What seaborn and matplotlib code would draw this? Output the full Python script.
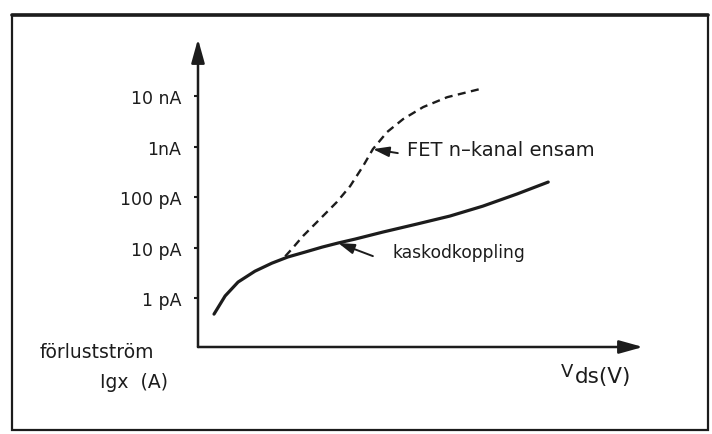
import numpy as np
import pandas as pd
import matplotlib
matplotlib.use("Agg")
import matplotlib.pyplot as plt
import seaborn as sns
from matplotlib.patches import Rectangle
from matplotlib.lines import Line2D

# leakage current vs Vds (arbitrary V units, current in A)
solid_vds = [0.36, 0.61, 0.90, 1.28, 1.66, 2.02, 2.40, 2.79, 3.15, 3.53,
             4.16, 4.92, 5.66, 6.40, 7.17, 7.87]
solid_igx = [4.8e-13, 1.1e-12, 2.07e-12, 3.4e-12, 4.9e-12, 6.5e-12, 8.1e-12,
             1.02e-11, 1.23e-11, 1.47e-11, 2.03e-11, 2.92e-11, 4.2e-11,
             6.6e-11, 1.15e-10, 1.98e-10]
dashed_vds = [1.96, 2.12, 2.36, 2.74, 3.12, 3.42, 3.71, 3.93, 4.25, 4.61,
              5.06, 5.60, 6.34]
dashed_igx = [6.7e-12, 9.6e-12, 1.69e-11, 3.66e-11, 7.96e-11, 1.65e-10,
              4.1e-10, 8.9e-10, 1.94e-9, 3.5e-9, 6.05e-9, 9.5e-9, 1.38e-8]
tick_values = [1e-12, 1e-11, 1e-10, 1e-9, 1e-8]
tick_labels = ["1 pA", "10 pA", "100 pA", "1nA", "10 nA"]

W, H = 712, 435

sns.set_theme(style="white")
plt.rcParams['font.family'] = ['DejaVu Sans']
ink = "#1c1c1c"

fig = plt.figure(figsize=(W / 100, H / 100), dpi=100)
fig.patch.set_facecolor("white")

def fx(px):
    return px / W

def fy(py):
    return 1 - py / H

# axes box: corner at (198,348), x-arrow to 643, y-arrow to 40
ax = fig.add_axes([fx(198), fy(348), fx(643) - fx(198), fy(40) - fy(348)])
ax.set_facecolor("none")
ax.set_yscale("log")
ax.set_xlim(0, 10)
ax.set_ylim(10 ** -12.97, 10 ** -6.87)

solid = pd.DataFrame({"vds": solid_vds, "igx": solid_igx})
dashed = pd.DataFrame({"vds": dashed_vds, "igx": dashed_igx})
sns.lineplot(data=solid, x="vds", y="igx", ax=ax, color=ink, lw=2.3,
             solid_capstyle="round", solid_joinstyle="round", sort=False)
sns.lineplot(data=dashed, x="vds", y="igx", ax=ax, color=ink, lw=1.7,
             sort=False)
ax.lines[-1].set_dashes([3.4, 2.3])

for s in ax.spines.values():
    s.set_visible(False)
ax.set_xticks([])
ax.set_yticks(tick_values)
ax.set_yticklabels(tick_labels, fontsize=12.5, color=ink)
ax.minorticks_off()
ax.tick_params(axis="y", left=True, length=3, width=1.5, color=ink, pad=9)
ax.set_xlabel("")
ax.set_ylabel("")

# axis arrows
arrow_kw = dict(arrowstyle="-|>,head_length=0.9,head_width=0.25", lw=1.8,
                color=ink, shrinkA=0, shrinkB=0, mutation_scale=16)
ax.annotate("", xy=(0, 1), xytext=(0, 0), xycoords="axes fraction",
            arrowprops=arrow_kw, annotation_clip=False)
ax.annotate("", xy=(1, 0), xytext=(0, 0), xycoords="axes fraction",
            arrowprops=arrow_kw, annotation_clip=False)

# curve labels with pointer arrows
ptr_kw = dict(arrowstyle="-|>,head_length=0.7,head_width=0.22", lw=1.4,
              color=ink, shrinkA=0, shrinkB=0, mutation_scale=14)
ax.annotate("", xy=(dashed_vds[7], dashed_igx[7]), xytext=(4.49, 10 ** -9.13),
            arrowprops=ptr_kw, annotation_clip=False)
ax.text(4.70, 10 ** -9.06, "FET n\u2013kanal ensam", fontsize=14, color=ink,
        ha="left", va="center")
ax.annotate("", xy=(solid_vds[8], solid_igx[8]), xytext=(3.93, 10 ** -11.17),
            arrowprops=ptr_kw, annotation_clip=False)
ax.text(4.36, 10 ** -11.09, "kaskodkoppling", fontsize=12.3, color=ink,
        ha="left", va="center")

# axis titles
fig.text(fx(40), fy(353), "förlustström", fontsize=13.5, color=ink,
         ha="left", va="center")
fig.text(fx(100), fy(383), "Igx  (A)", fontsize=13.5, color=ink,
         ha="left", va="center")
fig.text(fx(561), fy(377), "V", fontsize=13, color=ink, ha="left", va="baseline")
fig.text(fx(575), fy(383), "ds(V)", fontsize=15.5, color=ink, ha="left", va="baseline")

# outer frame
fig.patches.append(Rectangle((fx(12), fy(431)), fx(708) - fx(12), fy(16) - fy(431),
                             transform=fig.transFigure, fill=False,
                             lw=1.6, ec=ink))
fig.lines.append(Line2D([fx(12), fx(708)], [fy(16), fy(16)],
                        transform=fig.transFigure, lw=2.6, color=ink))

fig.savefig("out.png", dpi=100)
